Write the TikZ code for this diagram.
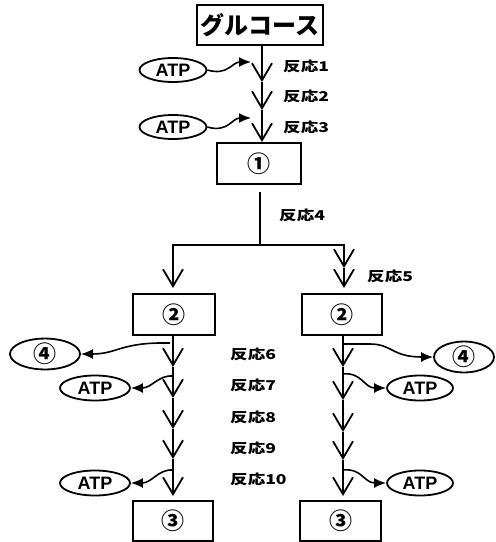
\documentclass[tikz,border=0pt]{standalone}
\usepackage{fontspec}
\setmainfont{Liberation Sans}
\newfontfamily\jp{Noto Sans CJK JP}
\usetikzlibrary{arrows.meta,shapes.geometric}
\tikzset{
  box/.style={draw,line width=2pt,rectangle,inner sep=0pt},
  oval/.style={draw,line width=1.8pt,ellipse,inner sep=0pt},
  flow/.style={line width=2pt,-{Straight Barb[length=17pt,width=20pt,line width=1.8pt]}},
  side/.style={line width=1.6pt,-{Latex[length=12pt,width=10pt]}},
  plain/.style={line width=2pt},
  lab/.style={anchor=west,inner sep=0pt,font=\jp\bfseries\fontsize{13.5}{13.5}\selectfont},
  num/.style={font=\jp\bfseries\fontsize{23}{23}\selectfont},
  atp/.style={font=\bfseries\fontsize{18}{18}\selectfont}
}
\newcommand{\wlab}[1]{\scalebox{1.3}[1]{#1}}
\begin{document}
\begin{tikzpicture}[x=1pt,y=-1pt]
\useasboundingbox (0,0) rectangle (496,542);
% boxes
\node[box,minimum width=126pt,minimum height=40pt,font=\jp\bfseries\fontsize{24}{24}\selectfont] (glu) at (260,25) {グルコース};
\node[box,num,minimum width=84pt,minimum height=41pt] (b1) at (259,163.5) {①};
\node[box,num,minimum width=82pt,minimum height=41pt] (L2) at (174,314.5) {②};
\node[box,num,minimum width=80pt,minimum height=41pt] (R2) at (342,314.5) {②};
\node[box,num,minimum width=80pt,minimum height=40pt] (L3) at (173,521) {③};
\node[box,num,minimum width=81pt,minimum height=40pt] (R3) at (340.5,521) {③};
% ovals
\node[oval,atp,minimum width=67pt,minimum height=24pt] (A1) at (173,70) {ATP};
\node[oval,atp,minimum width=67pt,minimum height=24pt] (A2) at (173,127) {ATP};
\node[oval,num,minimum width=70pt,minimum height=29pt] (L4) at (45,354) {④};
\node[oval,atp,minimum width=70pt,minimum height=25pt] (La1) at (95,388) {ATP};
\node[oval,atp,minimum width=70pt,minimum height=25pt] (La2) at (95,483) {ATP};
\node[oval,num,minimum width=60pt,minimum height=26pt] (R4) at (464,357) {④};
\node[oval,atp,minimum width=66pt,minimum height=25pt] (Ra1) at (420,388) {ATP};
\node[oval,atp,minimum width=66pt,minimum height=25pt] (Ra2) at (420,483) {ATP};
% coordinates
\coordinate (t1) at (262,82);
\coordinate (t2) at (262,110);
\coordinate (j1) at (251,62);
\coordinate (j2) at (251,118);
\coordinate (split) at (260,245);
\coordinate (r5) at (344,268);
\coordinate (l1) at (173,367);
\coordinate (l2) at (173,398);
\coordinate (l3) at (173,429);
\coordinate (l4) at (173,459);
\coordinate (r1) at (343,367);
\coordinate (r2) at (343,400);
\coordinate (r3) at (343,432);
\coordinate (r4) at (343,460);
\coordinate (sl4) at (170,343);
\coordinate (sla1) at (173,376);
\coordinate (sla2) at (173,470);
\coordinate (sr4) at (343,344);
\coordinate (sra1) at (343,374);
\coordinate (sra2) at (343,470);
% top chain
\draw[flow] (glu.south -| t1) -- (t1);
\draw[flow] (t1) -- (t2);
\draw[flow] (t2) -- (t2 |- b1.north);
\draw[side] (A1.east) .. controls (228,76) and (232,62) .. (j1);
\draw[side] (A2.east) .. controls (228,133) and (232,118) .. (j2);
% split
\draw[plain,shorten <=7pt] (b1.south -| split) -- (split);
\draw[flow,shorten >=5pt] (split) -| (L2.north -| l1);
\draw[flow] (split) -| (r5);
\draw[flow,shorten >=5pt] (r5) -- (R2.north -| r5);
% left chain
\draw[flow] (L2.south -| l1) -- (l1);
\draw[flow] (l1) -- (l2);
\draw[flow] (l2) -- (l3);
\draw[flow] (l3) -- (l4);
\draw[flow,shorten >=4pt] (l4) -- (L3.north -| l4);
% right chain
\draw[flow] (R2.south -| r1) -- (r1);
\draw[flow] (r1) -- (r2);
\draw[flow] (r2) -- (r3);
\draw[flow] (r3) -- (r4);
\draw[flow,shorten >=4pt] (r4) -- (R3.north -| r4);
% side arrows
\draw[side] (sl4) .. controls (120,342) and (118,354) .. (L4.east);
\draw[side] (sla1) .. controls (158,375) and (152,388) .. (La1.east);
\draw[side] (sla2) .. controls (158,469) and (152,483) .. (La2.east);
\draw[side] (sr4) -- (370,344) .. controls (392,344) and (392,357) .. (R4.west);
\draw[side] (sra1) .. controls (362,372) and (364,388) .. (Ra1.west);
\draw[side] (sra2) .. controls (362,468) and (364,483) .. (Ra2.west);
% labels
\node[lab] (k1) at (283,66) {\wlab{反応1}};
\node[lab] (k2) at (283,96) {\wlab{反応2}};
\node[lab] (k3) at (283,127) {\wlab{反応3}};
\node[lab] (k4) at (279,215) {\wlab{反応4}};
\node[lab] (k5) at (367,276) {\wlab{反応5}};
\node[lab] (k6) at (230,354) {\wlab{反応6}};
\node[lab] (k7) at (230,385) {\wlab{反応7}};
\node[lab] (k8) at (230,417) {\wlab{反応8}};
\node[lab] (k9) at (230,448) {\wlab{反応9}};
\node[lab] (k10) at (230,479) {\wlab{反応10}};
\end{tikzpicture}
\end{document}
